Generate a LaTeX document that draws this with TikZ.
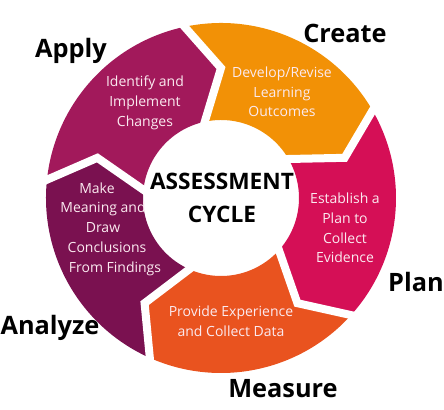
\documentclass[tikz,border=0pt]{standalone}
\usepackage{fontspec}
\setmainfont{Open Sans}
\usepackage{tikz}
\usetikzlibrary{positioning,calc}
\definecolor{ApplyPurple}{HTML}{A2195B}
\definecolor{CreateOrange}{HTML}{F29106}
\definecolor{PlanPink}{HTML}{D50F56}
\definecolor{MeasureOrange}{HTML}{E9531F}
\definecolor{AnalyzePlum}{HTML}{7A1150}
\definecolor{StepText}{HTML}{FBEAF0}
\tikzset{
  steptext/.style={text=StepText,font=\fontsize{10.5}{14.8}\selectfont,
    align=center,inner sep=0pt},
  phaselabel/.style={font=\fontsize{19}{22}\selectfont\bfseries,
    text=black,inner sep=0pt,anchor=base},
  hubtext/.style={font=\fontsize{17}{24.5}\selectfont\bfseries,
    align=center,inner sep=0pt},
  gapline/.style={draw=white,line width=6pt,line join=miter},
}
\begin{document}
\begin{tikzpicture}[x=0.75pt,y=0.75pt]
  \useasboundingbox (-221,-212) rectangle (223,198);
  % ring segments, clockwise
  \fill[ApplyPurple] (174:175) arc[start angle=174,end angle=102,radius=175]
    -- (90:130) -- (102:78) arc[start angle=102,end angle=174,radius=78] -- (162:130) -- cycle;
  \fill[CreateOrange] (102:175) arc[start angle=102,end angle=30,radius=175]
    -- (18:130) -- (30:78) arc[start angle=30,end angle=102,radius=78] -- (90:130) -- cycle;
  \fill[PlanPink] (30:175) arc[start angle=30,end angle=-42,radius=175]
    -- (-54:130) -- (-42:78) arc[start angle=-42,end angle=30,radius=78] -- (18:130) -- cycle;
  \fill[MeasureOrange] (-42:175) arc[start angle=-42,end angle=-114,radius=175]
    -- (-126:130) -- (-114:78) arc[start angle=-114,end angle=-42,radius=78] -- (-54:130) -- cycle;
  \fill[AnalyzePlum] (-114:175) arc[start angle=-114,end angle=-186,radius=175]
    -- (-198:130) -- (-186:78) arc[start angle=-186,end angle=-114,radius=78] -- (-126:130) -- cycle;
  % white gaps
  \draw[gapline] ($(90:130)!1.4!(102:175)$) -- (90:130) -- ($(90:130)!1.4!(102:78)$);
  \draw[gapline] ($(18:130)!1.4!(30:175)$) -- (18:130) -- ($(18:130)!1.4!(30:78)$);
  \draw[gapline] ($(-54:130)!1.4!(-42:175)$) -- (-54:130) -- ($(-54:130)!1.4!(-42:78)$);
  \draw[gapline] ($(-126:130)!1.4!(-114:175)$) -- (-126:130) -- ($(-126:130)!1.4!(-114:78)$);
  \draw[gapline] ($(162:130)!1.4!(174:175)$) -- (162:130) -- ($(162:130)!1.4!(174:78)$);
  % centre
  \node[hubtext] (hub) at (1,0) {ASSESSMENT\\CYCLE};
  % step texts
  \node[steptext] (tApply) at (-76,95) {Identify and\\Implement\\Changes};
  \node[steptext] (tCreate) at (61,106) {Develop/Revise\\Learning\\Outcomes};
  \node[steptext] (tPlan) at (124,-30) {Establish a\\Plan to\\Collect\\Evidence};
  \node[steptext] (tMeasure) at (10,-123) {Provide Experience\\and Collect Data};
  \node[steptext] (tAnalyze) at (-118,-31) {Make\hspace*{9pt}\\Meaning and\hspace*{9pt}\\Draw\hspace*{12pt}\\
    \hspace*{6pt}Conclusions\\\hspace*{18pt}From Findings};
  % phase labels
  \node[phaselabel] (lApply) at (-150,140) {Apply};
  \node[phaselabel] (lCreate) at (124,155) {Create};
  \node[phaselabel] (lPlan) at (195,-94) {Plan};
  \node[phaselabel] (lMeasure) at (62,-200) {Measure};
  \node[phaselabel] (lAnalyze) at (-171,-137) {Analyze};
\end{tikzpicture}
\end{document}
